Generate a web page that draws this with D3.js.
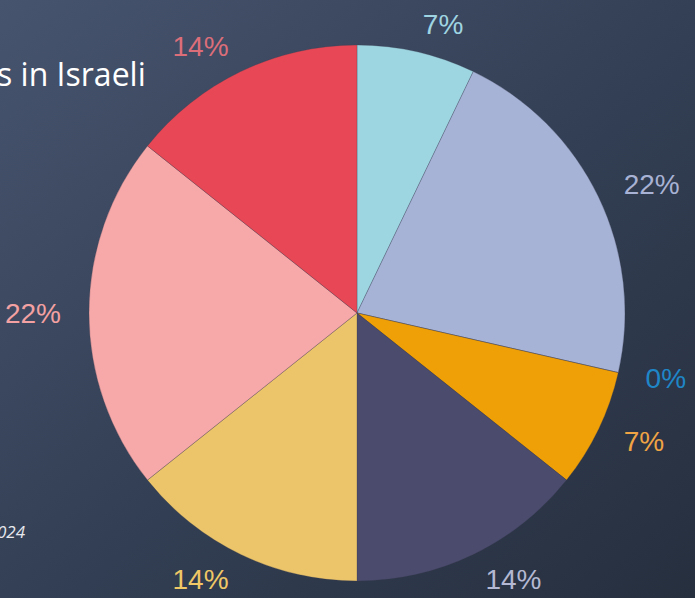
<!DOCTYPE html>
<html>
<head>
<meta charset="utf-8">
<script src="https://cdn.jsdelivr.net/npm/d3@7/dist/d3.min.js"></script>
<style>
  html, body { margin: 0; padding: 0; overflow: hidden; }
  svg { display: block; }
</style>
</head>
<body>
<svg id="chart" width="695" height="598"></svg>
<script>
// Share of each group, counted out of 14
const categories = ["A", "B", "C", "D", "E", "F", "G", "H"];
const counts = [1, 3, 0, 1, 2, 2, 3, 2];
const percentLabels = ["7%", "22%", "0%", "7%", "14%", "14%", "22%", "14%"];
const sliceColors = ["#9dd5e1", "#a6b3d7", "#1e88c8", "#f0a007", "#4b4b6e", "#ecc56a", "#f7a8a8", "#e84855"];
const labelColors = ["#9fd4e2", "#a8b2d4", "#1f86c8", "#f0a444", "#b4b8d2", "#f0c866", "#f3a1a2", "#dc6e7a"];
const titleText = "s in Israeli";
const noteText = "2024";

const width = 695, height = 598;
const cx = 357, cy = 313, radius = 268, labelRadius = 296;

const svg = d3.select("#chart");

// Background gradient
const defs = svg.append("defs");
const grad = defs.append("linearGradient")
  .attr("id", "bg").attr("x1", "0%").attr("y1", "0%").attr("x2", "100%").attr("y2", "100%");
grad.append("stop").attr("offset", "0%").attr("stop-color", "#47546e");
grad.append("stop").attr("offset", "55%").attr("stop-color", "#323e53");
grad.append("stop").attr("offset", "100%").attr("stop-color", "#262f3e");
svg.append("rect").attr("width", width).attr("height", height).attr("fill", "url(#bg)");

// Title and note
svg.append("text")
  .attr("x", -3).attr("y", 86)
  .attr("fill", "#ffffff")
  .attr("font-family", "'Open Sans', 'Noto Sans', sans-serif")
  .attr("font-size", 32)
  .text(titleText);

svg.append("text")
  .attr("x", 25).attr("y", 538)
  .attr("text-anchor", "end")
  .attr("fill", "#e6e8ee")
  .attr("font-family", "'Open Sans', 'Noto Sans', sans-serif")
  .attr("font-style", "italic")
  .attr("font-size", 17)
  .text(noteText);

const data = categories.map((c, i) => ({ cat: c, value: counts[i], label: percentLabels[i], color: sliceColors[i], lcolor: labelColors[i] }));

const pie = d3.pie().sort(null).value(d => d.value);
const arc = d3.arc().innerRadius(0).outerRadius(radius);
const arcs = pie(data);

const g = svg.append("g").attr("transform", `translate(${cx},${cy})`);

g.selectAll("path.slice")
  .data(arcs)
  .join("path")
  .attr("class", "slice")
  .attr("d", arc)
  .attr("fill", d => d.data.color)
  .attr("stroke", "rgba(60,60,80,0.45)")
  .attr("stroke-width", 0.6);

// Percentage labels outside the pie, anchored by side
g.selectAll("text.lbl")
  .data(arcs)
  .join("text")
  .attr("class", "lbl")
  .each(function(d) {
    const a = (d.startAngle + d.endAngle) / 2;
    const x = labelRadius * Math.sin(a);
    const y = -labelRadius * Math.cos(a);
    d3.select(this)
      .attr("x", x).attr("y", y)
      .attr("text-anchor", Math.sin(a) >= 0 ? "start" : "end");
  })
  .attr("dominant-baseline", "central")
  .attr("fill", d => d.data.lcolor)
  .attr("font-family", "'Liberation Sans', Arial, sans-serif")
  .attr("font-size", 28)
  .text(d => d.data.label);
</script>
</body>
</html>
